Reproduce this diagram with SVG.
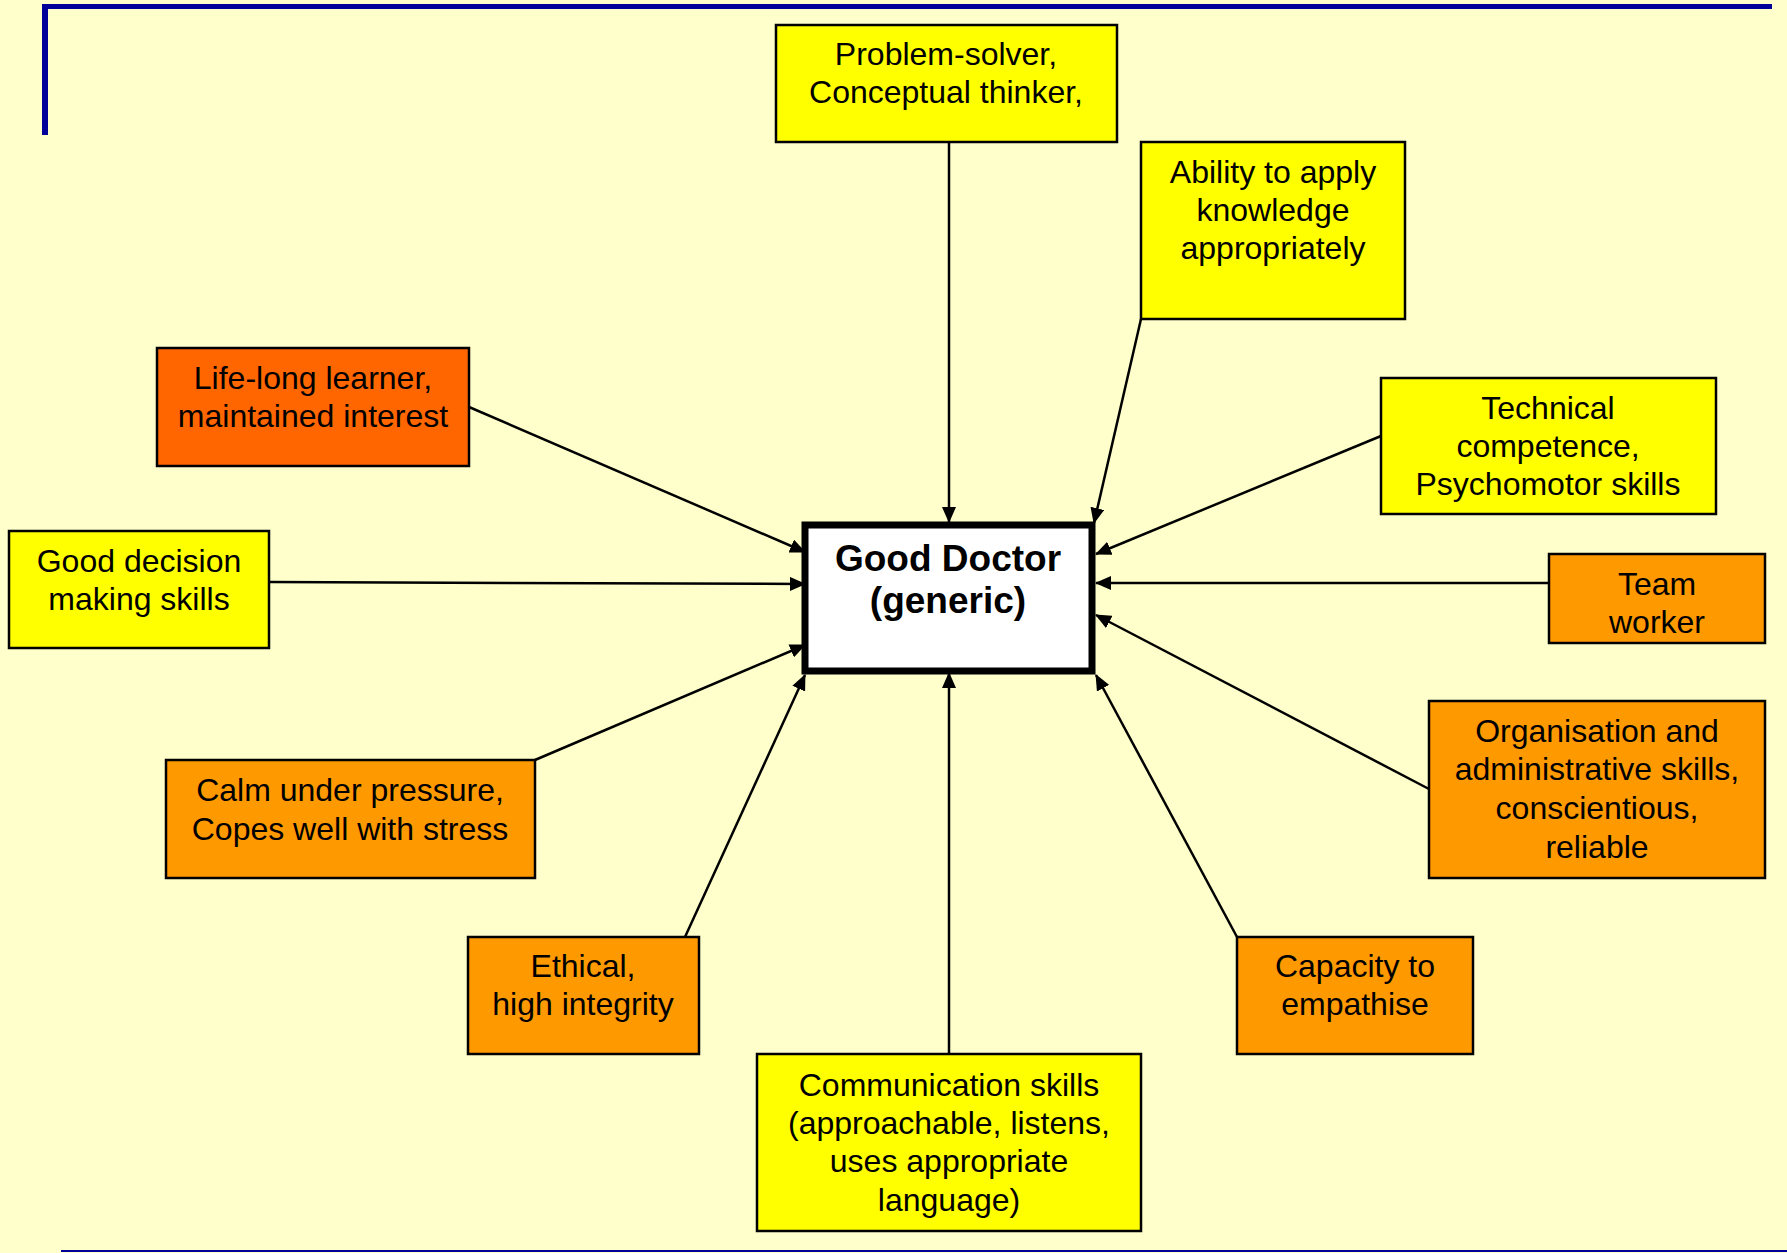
<svg xmlns="http://www.w3.org/2000/svg" width="1787" height="1253" viewBox="0 0 1787 1253">
<style>
text{font-family:"Liberation Sans",Arial,sans-serif;font-size:32px;fill:#000;text-anchor:middle}
.box{stroke:#000;stroke-width:2.5}
.y{fill:#FFFF00}
.o{fill:#FF9900}
.r{fill:#FF6600}
.c{stroke:#000;stroke-width:2.5;fill:none;marker-end:url(#ah)}
.main{font-weight:bold;font-size:37px}
</style>
<defs>
<marker id="ah" markerUnits="userSpaceOnUse" markerWidth="16" markerHeight="14" refX="15" refY="7" orient="auto">
<path d="M0,0 L16,7 L0,14 z" fill="#000"/>
</marker>
</defs>
<rect width="1787" height="1253" fill="#FFFFCC"/>
<g id="frame">
<rect x="43" y="4" width="1729" height="5" fill="#000099"/>
<rect x="42" y="4" width="6" height="131" fill="#000099"/>
<rect x="61" y="1250" width="1726" height="2" fill="#000099"/>
</g>
<g id="connectors">
<line class="c" x1="949" y1="142" x2="949" y2="522"/>
<line class="c" x1="1141" y1="319" x2="1094" y2="523"/>
<line class="c" x1="1381" y1="436" x2="1096" y2="554"/>
<line class="c" x1="1549" y1="583" x2="1096" y2="583"/>
<line class="c" x1="1429" y1="789" x2="1096" y2="615"/>
<line class="c" x1="1237" y1="937" x2="1096" y2="675"/>
<line class="c" x1="949" y1="1054" x2="949" y2="673"/>
<line class="c" x1="685" y1="937" x2="805" y2="675"/>
<line class="c" x1="535" y1="760" x2="805" y2="645"/>
<line class="c" x1="269" y1="582" x2="805" y2="584"/>
<line class="c" x1="469" y1="407" x2="805" y2="552"/>
</g>
<g id="center">
<rect x="805" y="525" width="287" height="146" fill="#FFFFFF" stroke="#000" stroke-width="7"/>
<text class="main" x="948" y="571">Good Doctor</text>
<text class="main" x="948" y="613">(generic)</text>
</g>
<g id="problem">
<rect class="box y" x="776" y="25" width="341" height="117"/>
<text x="946" y="65">Problem-solver,</text>
<text x="946" y="103">Conceptual thinker,</text>
</g>
<g id="ability">
<rect class="box y" x="1141" y="142" width="264" height="177"/>
<text x="1273" y="183">Ability to apply</text>
<text x="1273" y="221">knowledge</text>
<text x="1273" y="259">appropriately</text>
</g>
<g id="technical">
<rect class="box y" x="1381" y="378" width="335" height="136"/>
<text x="1548" y="419">Technical</text>
<text x="1548" y="457">competence,</text>
<text x="1548" y="495">Psychomotor skills</text>
</g>
<g id="team">
<rect class="box o" x="1549" y="554" width="216" height="89"/>
<text x="1657" y="595">Team</text>
<text x="1657" y="633">worker</text>
</g>
<g id="organisation">
<rect class="box o" x="1429" y="701" width="336" height="177"/>
<text x="1597" y="742">Organisation and</text>
<text x="1597" y="780">administrative skills,</text>
<text x="1597" y="819">conscientious,</text>
<text x="1597" y="858">reliable</text>
</g>
<g id="capacity">
<rect class="box o" x="1237" y="937" width="236" height="117"/>
<text x="1355" y="977">Capacity to</text>
<text x="1355" y="1015">empathise</text>
</g>
<g id="communication">
<rect class="box y" x="757" y="1054" width="384" height="177"/>
<text x="949" y="1096">Communication skills</text>
<text x="949" y="1134">(approachable, listens,</text>
<text x="949" y="1172">uses appropriate</text>
<text x="949" y="1211">language)</text>
</g>
<g id="ethical">
<rect class="box o" x="468" y="937" width="231" height="117"/>
<text x="583" y="977">Ethical,</text>
<text x="583" y="1015">high integrity</text>
</g>
<g id="calm">
<rect class="box o" x="166" y="760" width="369" height="118"/>
<text x="350" y="801">Calm under pressure,</text>
<text x="350" y="840">Copes well with stress</text>
</g>
<g id="decision">
<rect class="box y" x="9" y="531" width="260" height="117"/>
<text x="139" y="572">Good decision</text>
<text x="139" y="610">making skills</text>
</g>
<g id="lifelong">
<rect class="box r" x="157" y="348" width="312" height="118"/>
<text x="313" y="389">Life-long learner,</text>
<text x="313" y="427">maintained interest</text>
</g>
</svg>
